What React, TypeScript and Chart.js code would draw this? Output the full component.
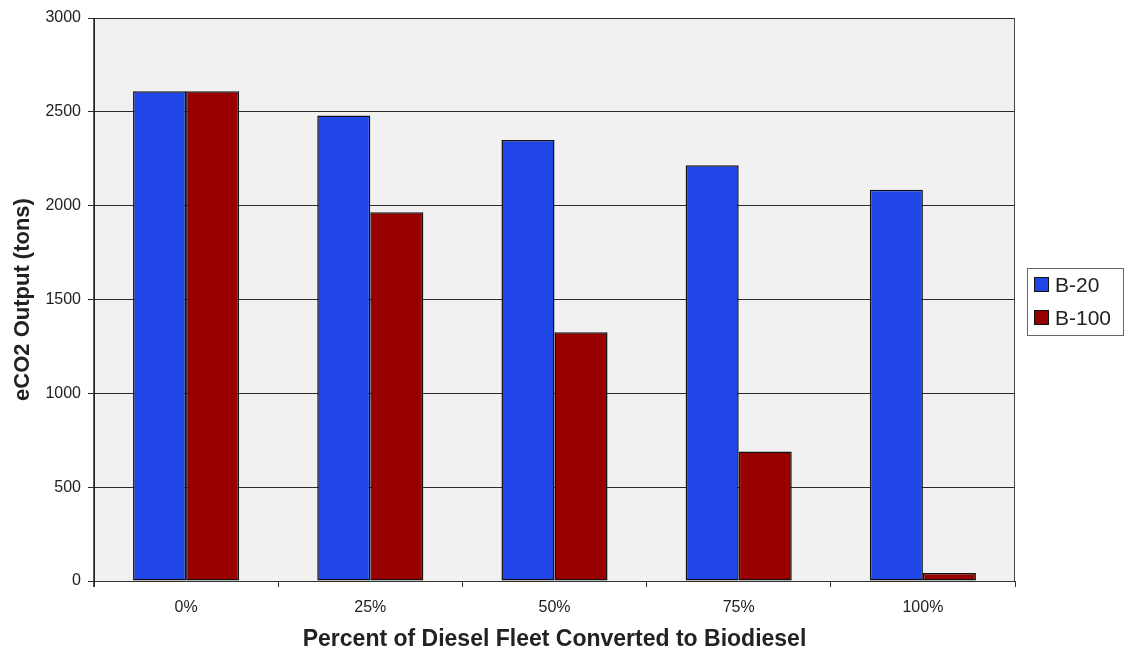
import React, { useEffect, useRef } from 'react';
import { Chart, registerables } from 'chart.js';

Chart.register(...registerables);

// Fleet conversion share (category axis)
const categories = ['0%', '25%', '50%', '75%', '100%'];
// eCO2 output in tons for each biodiesel blend
const b20Values = [2610, 2480, 2350, 2215, 2085];
const b100Values = [2610, 1965, 1325, 690, 42];
const seriesNames = ['B-20', 'B-100'];
const yAxisTitle = 'eCO2 Output (tons)';
const xAxisTitle = 'Percent of Diesel Fleet Converted to Biodiesel';

const FONT = '"Liberation Sans", Arial, Helvetica, sans-serif';
const BLUE = '#1f45e6';
const RED = '#980000';
const INK = '#222222';

// Grey plot background plus the frame line on the right side of the plot
const plotFrame = {
  id: 'plotFrame',
  beforeDraw(chart: any) {
    const { ctx, chartArea: a } = chart;
    ctx.save();
    ctx.fillStyle = '#ffffff';
    ctx.fillRect(0, 0, chart.width, chart.height);
    ctx.fillStyle = '#f1f1f1';
    ctx.fillRect(a.left, a.top, a.right - a.left, a.bottom - a.top);
    ctx.restore();
  },
  afterDatasetsDraw(chart: any) {
    const { ctx, chartArea: a } = chart;
    ctx.save();
    ctx.strokeStyle = '#444444';
    ctx.lineWidth = 1;
    ctx.beginPath();
    ctx.moveTo(Math.round(a.right) - 0.5, a.top);
    ctx.lineTo(Math.round(a.right) - 0.5, a.bottom);
    ctx.stroke();
    // darker value axis line
    ctx.strokeStyle = '#222222';
    ctx.lineWidth = 1.5;
    ctx.beginPath();
    ctx.moveTo(a.left, a.top);
    ctx.lineTo(a.left, a.bottom + 6);
    ctx.stroke();
    ctx.restore();
  },
};

// Boxed legend to the right of the plot
const boxedLegend = {
  id: 'boxedLegend',
  afterDraw(chart: any) {
    const { ctx } = chart;
    const x0 = 1027;
    const y0 = 268;
    const w = 96;
    const h = 67;
    ctx.save();
    ctx.fillStyle = '#ffffff';
    ctx.fillRect(x0, y0, w, h);
    ctx.strokeStyle = '#666666';
    ctx.lineWidth = 1;
    ctx.strokeRect(x0 + 0.5, y0 + 0.5, w, h);
    ctx.font = `21px ${FONT}`;
    ctx.textBaseline = 'middle';
    ctx.textAlign = 'left';
    chart.data.datasets.forEach((ds: any, i: number) => {
      const cy = 285 + i * 33;
      ctx.fillStyle = ds.backgroundColor;
      ctx.fillRect(1034, cy - 8, 15, 15);
      ctx.strokeStyle = '#111111';
      ctx.strokeRect(1034.5, cy - 7.5, 14, 14);
      ctx.fillStyle = INK;
      ctx.fillText(ds.label, 1055, cy + 1);
    });
    ctx.restore();
  },
};

export default function App() {
  const canvasRef = useRef<HTMLCanvasElement | null>(null);

  useEffect(() => {
    if (!canvasRef.current) return;
    const barStyle = {
      borderColor: '#111111',
      borderWidth: 1.5,
      borderSkipped: false as const,
      categoryPercentage: 0.576,
      barPercentage: 1,
    };
    const chart = new Chart(canvasRef.current, {
      type: 'bar',
      data: {
        labels: categories,
        datasets: [
          { label: seriesNames[0], data: b20Values, backgroundColor: BLUE, ...barStyle },
          { label: seriesNames[1], data: b100Values, backgroundColor: RED, ...barStyle },
        ],
      },
      options: {
        responsive: false,
        animation: false,
        layout: { padding: { left: 0, right: 113, top: 18, bottom: 0 } },
        plugins: {
          legend: { display: false },
          tooltip: { enabled: false },
        },
        scales: {
          x: {
            afterFit: (s: any) => {
              s.height = 74;
            },
            grid: {
              offset: true,
              drawOnChartArea: false,
              drawTicks: true,
              tickLength: 6,
              color: '#333333',
            },
            border: { color: '#333333', width: 1 },
            ticks: {
              color: INK,
              font: { family: FONT, size: 16 },
              padding: 11,
              maxRotation: 0,
            },
            title: {
              display: true,
              text: xAxisTitle,
              color: INK,
              font: { family: FONT, size: 23, weight: 'bold' },
              padding: { top: 0, bottom: 2 },
            },
          },
          y: {
            min: 0,
            max: 3000,
            afterFit: (s: any) => {
              s.width = 94;
            },
            grid: {
              color: '#2a2a2a',
              lineWidth: 1,
              tickLength: 6,
            },
            border: { color: '#333333', width: 1 },
            ticks: {
              stepSize: 500,
              color: INK,
              font: { family: FONT, size: 16 },
              padding: 7,
              callback: (v: any) => String(v),
            },
            title: {
              display: true,
              text: yAxisTitle,
              color: INK,
              font: { family: FONT, size: 22, weight: 'bold' },
              padding: { top: 10, bottom: 0 },
            },
          },
        },
      },
      plugins: [plotFrame, boxedLegend],
    });
    return () => chart.destroy();
  }, []);

  return (
    <div style={{ position: 'absolute', left: 0, top: 0, width: 1128, height: 655, background: '#ffffff' }}>
      <canvas ref={canvasRef} width={1128} height={655} />
    </div>
  );
}
